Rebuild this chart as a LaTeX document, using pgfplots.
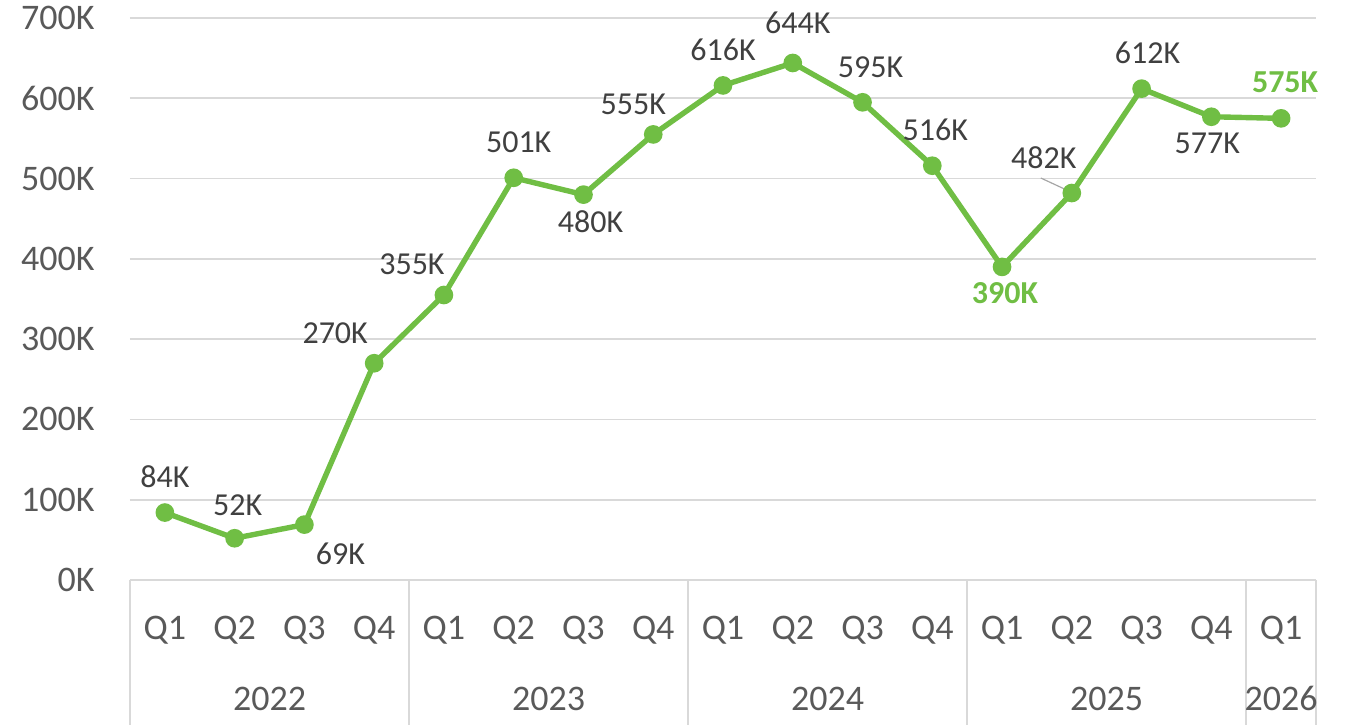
\documentclass[border=0pt]{standalone}
\usepackage{fontspec}
\setmainfont{Carlito}
\usepackage{pgfplots}
\usepackage{pgfplotstable}
\pgfplotsset{compat=1.18}
\definecolor{lgreen}{RGB}{112,190,68}
\definecolor{tickc}{RGB}{89,89,89}
\definecolor{labc}{RGB}{64,64,64}
\definecolor{gridc}{RGB}{217,217,217}

\pgfplotstableread{
x y dx dy lab
0 84 0 18 84K
1 52 1.5 16.5 52K
2 69 18 -14.5 69K
3 270 -19.5 15 270K
4 355 -16 15.5 355K
5 501 2.5 18 501K
6 480 3.5 -13.5 480K
7 555 -10 15 555K
8 616 0 18 616K
9 644 2.5 20 644K
10 595 4 17.5 595K
11 516 1.5 18 516K
12 390 1.5 -13 {\textcolor{lgreen}{\bfseries 390K}}
13 482 -14 17.5 482K
14 612 3 18 612K
15 577 -2 -13.5 577K
16 575 2 18 {\textcolor{lgreen}{\bfseries 575K}}
}\datatable

\begin{document}
\begin{tikzpicture}
\useasboundingbox (-65pt,-72.5pt) rectangle (612.5pt,290pt);
\begin{axis}[
  at={(0,0)}, anchor=south west,
  scale only axis, width=593pt, height=281pt,
  xmin=-0.5, xmax=16.5, ymin=0, ymax=700,
  clip=false,
  axis line style={draw=none},
  major tick length=0pt,
  ytick={0,100,...,700},
  yticklabels={0K,100K,200K,300K,400K,500K,600K,700K},
  ymajorgrids, grid style={gridc, line width=0.8pt},
  xtick={0,...,16},
  xticklabels={Q1,Q2,Q3,Q4,Q1,Q2,Q3,Q4,Q1,Q2,Q3,Q4,Q1,Q2,Q3,Q4,Q1},
  xticklabel style={anchor=base, yshift=-29.75pt, font=\fontsize{18}{20}\selectfont, text=tickc},
  yticklabel style={anchor=east, inner sep=0pt, xshift=-17.5pt, font=\fontsize{18}{20}\selectfont, text=tickc},
  /pgf/number format/assume math mode=true,
]
% axis line and separators
\draw[gridc, line width=0.8pt] (axis cs:-0.5,0) -- (axis cs:16.5,0);
\foreach \s in {-0.5,3.5,7.5,11.5,15.5,16.5}{
  \edef\tmp{\noexpand\draw[gridc, line width=0.8pt] (axis cs:\s,0) -- ([yshift=-72.5pt]axis cs:\s,0);}\tmp
}
\foreach \yx/\yl in {1.5/2022,5.5/2023,9.5/2024,13.5/2025,16/2026}{
  \edef\tmp{\noexpand\node[anchor=base, inner sep=0pt, font=\noexpand\fontsize{18}{20}\noexpand\selectfont, text=tickc] at ([yshift=-65pt]axis cs:\yx,0) {\yl};}\tmp
}
% leader line
\draw[gray!70, line width=0.6pt] ([xshift=-15.5pt,yshift=7.5pt]axis cs:13,482) -- ([xshift=-1.5pt,yshift=1pt]axis cs:13,482);
\addplot[lgreen, line width=2.7pt, mark=*, mark size=3.3pt, mark options={solid, fill=lgreen, draw=lgreen}] table[x=x, y=y] {\datatable};
\addplot[draw=none, mark=none,
  nodes near coords, point meta=explicit symbolic,
  visualization depends on={\thisrow{dx}\as\labdx},
  visualization depends on={\thisrow{dy}\as\labdy},
  nodes near coords style={anchor=center, inner sep=0pt, xshift=\labdx pt, yshift=\labdy pt, font=\fontsize{16}{18}\selectfont, text=labc},
] table[x=x, y=y, meta=lab] {\datatable};
\end{axis}
\end{tikzpicture}
\end{document}
